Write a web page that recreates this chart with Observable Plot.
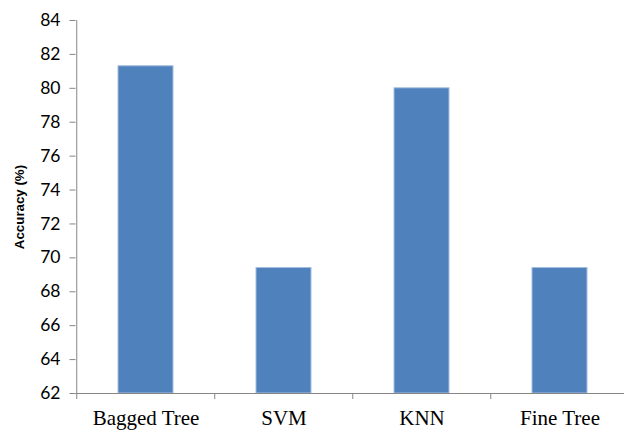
<!DOCTYPE html>
<html>
<head>
<meta charset="utf-8">
<script src="https://cdn.jsdelivr.net/npm/d3@7"></script>
<script src="https://cdn.jsdelivr.net/npm/@observablehq/plot@0.6"></script>
<style>
  html, body { margin: 0; padding: 0; background: #fff; }
  #chart svg { display: block; }
</style>
</head>
<body>
<div id="chart"></div>
<script>
const categories = ["Bagged Tree", "SVM", "KNN", "Fine Tree"];
const accuracy = [81.3, 69.4, 80.0, 69.4];
const yTicks = [62, 64, 66, 68, 70, 72, 74, 76, 78, 80, 82, 84];
const yLabel = "Accuracy (%)";

const data = categories.map((c, i) => ({model: c, accuracy: accuracy[i]}));

const W = 624, H = 432;
const left = 75.5, right = 629.5;
const step = (right - left) / categories.length;
const axisGray = "#868686";

const chart = Plot.plot({
  width: W,
  height: H,
  marginTop: 20,
  marginBottom: 39,
  marginLeft: left,
  marginRight: W - right,
  style: {background: "#fff", overflow: "hidden"},
  x: {domain: categories, range: [left, right], paddingInner: 0.6, paddingOuter: 0.3},
  y: {domain: [62, 84], ticks: yTicks},
  marks: [
    Plot.barY(data, {x: "model", y1: 62, y2: "accuracy", fill: "#4F81BD", stroke: "#a3bddf", strokeWidth: 1}),
    Plot.ruleY([62], {stroke: axisGray, strokeWidth: 1}),
    Plot.ruleX(categories.slice(0, 1), {x: d => d, y1: 62, y2: 84, dx: -step / 2, stroke: axisGray, strokeWidth: 1}),
    Plot.axisY({ticks: yTicks, tickSize: 6, text: null, stroke: axisGray, label: null}),
    Plot.axisY({ticks: yTicks, tickSize: 0, tickPadding: 15.5, fontSize: 17.5, fontFamily: "Lato", fill: "#000", label: null}),
    Plot.axisX({tickSize: 6, text: null, dx: -step / 2, stroke: axisGray, label: null}),
    Plot.axisX({tickSize: 0, tickPadding: 16.5, fontSize: 21, fontFamily: "Liberation Serif", fill: "#000", label: null}),
    Plot.text([yLabel], {frameAnchor: "left", textAnchor: "middle", rotate: -90, dx: -56, fontWeight: "bold", fontSize: 13.3, fontFamily: "Liberation Sans", fill: "#000"})
  ]
});
document.getElementById("chart").appendChild(chart);
</script>
</body>
</html>
